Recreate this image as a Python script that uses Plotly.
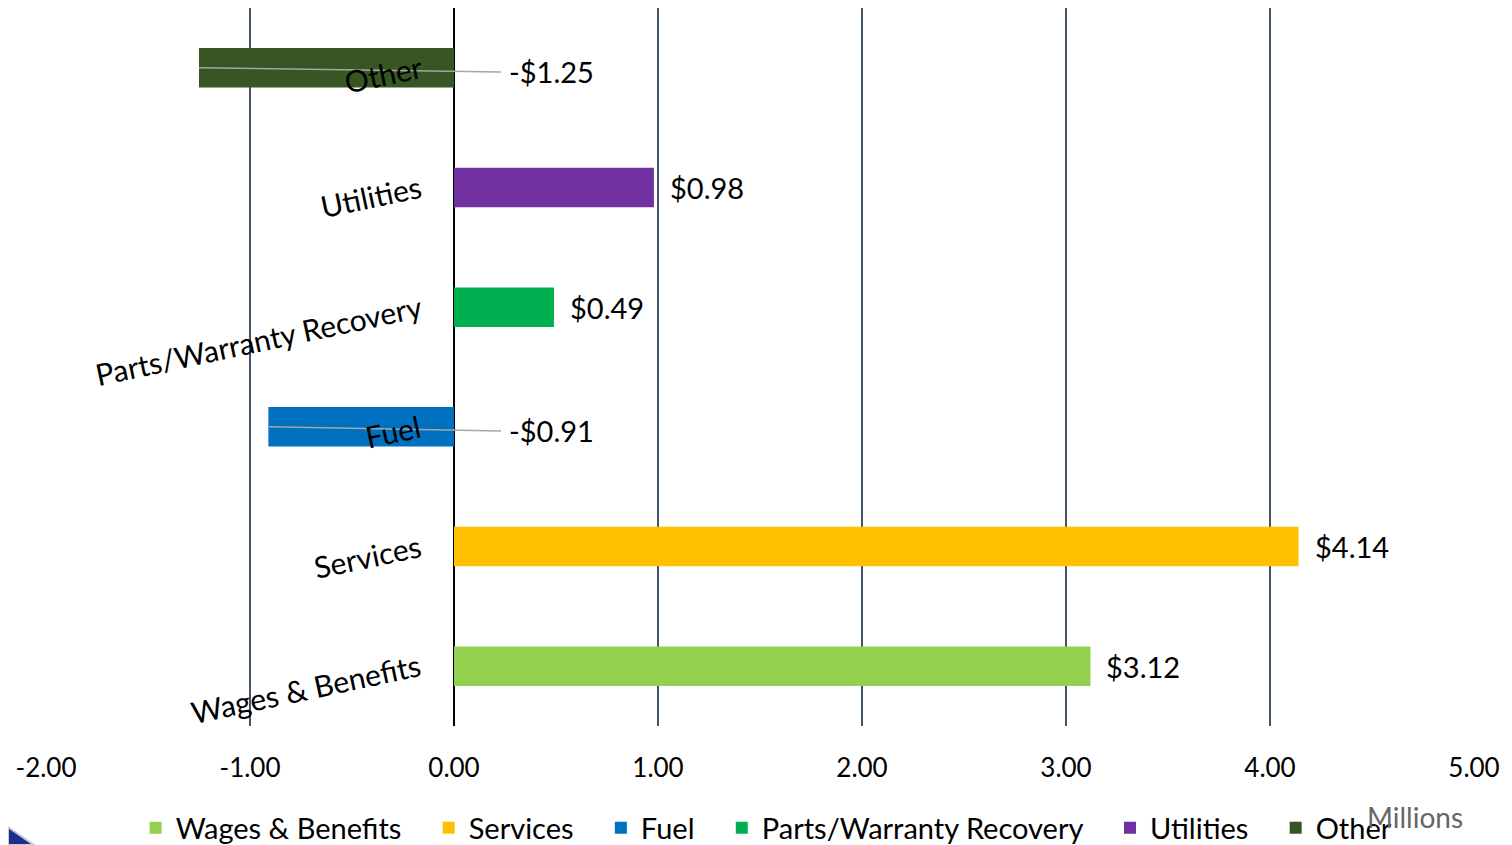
import plotly.graph_objects as go

categories = ["Wages & Benefits", "Services", "Fuel", "Parts/Warranty Recovery", "Utilities", "Other"]
values = [3.12, 4.14, -0.91, 0.49, 0.98, -1.25]
colors = ["#92D050", "#FFC000", "#0070C0", "#00B050", "#7030A0", "#375623"]
tick_vals = [-2, -1, 0, 1, 2, 3, 4, 5]
tick_text = ["-2.00", "-1.00", "0.00", "1.00", "2.00", "3.00", "4.00", "5.00"]

FONT = "Lato"
PAD = "\u00a0\u00a0\u00a0"

fig = go.Figure()
for cat, val, col in zip(categories, values, colors):
    fig.add_trace(go.Bar(
        y=[cat], x=[val], name=cat + PAD, orientation="h",
        marker=dict(color=col, line=dict(width=0)), width=0.33,
        hoverinfo="skip",
    ))

annotations = []
shapes = []
for i, (cat, val) in enumerate(zip(categories, values)):
    # category label, rotated, left of zero line
    annotations.append(dict(
        x=0, y=cat, xref="x", yref="y", text=cat, showarrow=False,
        textangle=-12, xanchor="right", yanchor="top",
        xshift=-27, yshift=22, font=dict(family=FONT, size=30, color="#000000"),
    ))
    label = ("-$%.2f" % abs(val)) if val < 0 else ("$%.2f" % val)
    if val >= 0:
        annotations.append(dict(
            x=val, y=cat, xref="x", yref="y", text=label, showarrow=False,
            xanchor="left", yanchor="middle", xshift=14,
            font=dict(family=FONT, size=29, color="#000000"),
        ))
    else:
        annotations.append(dict(
            x=0, y=cat, xref="x", yref="y", text=label, showarrow=False,
            xanchor="left", yanchor="middle", xshift=53, yshift=-4,
            font=dict(family=FONT, size=29, color="#000000"),
        ))
        shapes.append(dict(
            type="line", xref="x", yref="y",
            x0=val, y0=i, x1=0.23, y1=i - 0.035,
            line=dict(color="#A6A6A6", width=1.5), layer="above",
        ))

annotations.append(dict(
    x=0.9937, y=-0.127, xref="paper", yref="paper", text="Millions",
    showarrow=False, xanchor="right", yanchor="middle",
    font=dict(family=FONT, size=28, color="#666666"),
))

# decorative corner swoosh
shapes.append(dict(
    type="path", xref="paper", yref="paper",
    path="M -0.0266,-0.1407 L -0.0084,-0.1657 L -0.0266,-0.1657 Z",
    fillcolor="#1F2E8C", line=dict(color="#C8CCD8", width=2), layer="above",
))

fig.update_layout(
    width=1504, height=837,
    margin=dict(l=38, r=38, t=0, b=119, autoexpand=False),
    paper_bgcolor="white", plot_bgcolor="white",
    barmode="overlay",
    showlegend=True,
    legend=dict(orientation="h", x=0.512, xanchor="center", y=-0.142, yanchor="middle",
                font=dict(family=FONT, size=29, color="#000000"),
                traceorder="normal", itemwidth=30),
    xaxis=dict(
        range=[-2, 5], tickvals=tick_vals, ticktext=tick_text,
        showgrid=True, gridcolor="#44546A", gridwidth=2,
        zeroline=True, zerolinecolor="#000000", zerolinewidth=2,
        showline=False, ticks="", ticklabelstandoff=24,
        tickfont=dict(family=FONT, size=26, color="#000000"),
    ),
    yaxis=dict(
        categoryorder="array", categoryarray=categories,
        range=[-0.5, 5.5], showticklabels=False, showgrid=False,
        zeroline=False, showline=False,
    ),
    annotations=annotations, shapes=shapes,
    font=dict(family=FONT),
)

fig.write_html("out.html")
